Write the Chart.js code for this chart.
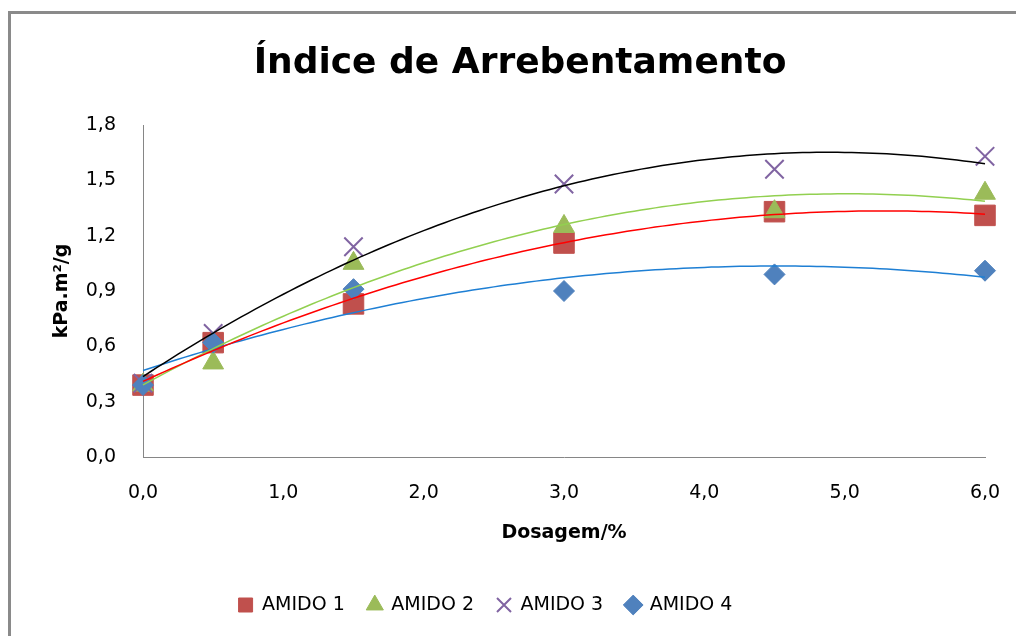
<!DOCTYPE html>
<html>
<head>
<meta charset="utf-8">
<script src="https://cdn.jsdelivr.net/npm/chart.js@4.4.0/dist/chart.umd.min.js"></script>
<style>
  html, body { margin: 0; padding: 0; background: #ffffff; }
  canvas { display: block; }
</style>
</head>
<body>
<canvas id="chart" width="1016" height="636"></canvas>
<script>
// Dosage levels (%) and burst index (kPa.m²/g) for each starch
const dosagem = [0, 0.5, 1.5, 3.0, 4.5, 6.0];
const amido1 = [0.39, 0.62, 0.83, 1.16, 1.33, 1.31];
const amido2 = [0.39, 0.51, 1.05, 1.25, 1.33, 1.43];
const amido3 = [0.40, 0.67, 1.14, 1.48, 1.56, 1.63];
const amido4 = [0.39, 0.62, 0.91, 0.90, 0.99, 1.01];

const seriesNames = ['AMIDO 1', 'AMIDO 2', 'AMIDO 3', 'AMIDO 4'];
const xTickValues = [0, 1, 2, 3, 4, 5, 6];
const yTickValues = [0, 0.3, 0.6, 0.9, 1.2, 1.5, 1.8];

const FONT = '"DejaVu Sans", sans-serif';
const fmt = v => Number(v).toFixed(1).replace('.', ',');

// Second-order least-squares fit (polynomial trendline)
function quadFit(xs, ys) {
  const S = [0, 0, 0, 0, 0], T = [0, 0, 0];
  xs.forEach((x, i) => {
    for (let k = 0; k < 5; k++) S[k] += Math.pow(x, k);
    for (let k = 0; k < 3; k++) T[k] += ys[i] * Math.pow(x, k);
  });
  const M = [[S[0], S[1], S[2], T[0]], [S[1], S[2], S[3], T[1]], [S[2], S[3], S[4], T[2]]];
  for (let c = 0; c < 3; c++) {
    for (let r = c + 1; r < 3; r++) {
      const f = M[r][c] / M[c][c];
      for (let k = c; k < 4; k++) M[r][k] -= f * M[c][k];
    }
  }
  const coef = [0, 0, 0];
  for (let r = 2; r >= 0; r--) {
    let s = M[r][3];
    for (let k = r + 1; k < 3; k++) s -= M[r][k] * coef[k];
    coef[r] = s / M[r][r];
  }
  return coef;
}

function trendPoints(ys) {
  const [a, b, c] = quadFit(dosagem, ys);
  const lo = dosagem[0], hi = dosagem[dosagem.length - 1];
  const pts = [];
  const n = 120;
  for (let i = 0; i <= n; i++) {
    const x = lo + (hi - lo) * i / n;
    pts.push({ x, y: a + b * x + c * x * x });
  }
  return pts;
}

const toXY = ys => dosagem.map((x, i) => ({ x, y: ys[i] }));

const markerStyles = [
  { data: amido1, color: '#C0504D', style: 'rect',     radius: 14.5, order: 5, trend: '#FF0000' },
  { data: amido2, color: '#9BBB59', style: 'triangle', radius: 12,   order: 4, trend: '#92D050' },
  { data: amido3, color: '#8064A2', style: 'crossRot', radius: 13,   order: 3, trend: '#000000' },
  { data: amido4, color: '#4F81BD', style: 'rectRot',  radius: 10.5, order: 2, trend: '#1E7FD4' }
];

const datasets = [];
markerStyles.forEach((s, i) => {
  datasets.push({
    label: seriesNames[i],
    data: toXY(s.data),
    showLine: false,
    clip: false,
    pointStyle: s.style,
    pointRadius: s.radius,
    pointHoverRadius: s.radius,
    backgroundColor: s.color,
    borderColor: s.color,
    pointBorderWidth: s.style === 'crossRot' ? 2 : 1,
    order: s.order
  });
});
markerStyles.forEach((s, i) => {
  datasets.push({
    label: seriesNames[i] + ' (tendência)',
    data: trendPoints(s.data),
    showLine: true,
    clip: false,
    borderColor: s.trend,
    borderWidth: 1.5,
    pointRadius: 0,
    pointHoverRadius: 0,
    fill: false,
    tension: 0,
    order: 1
  });
});

// Grey frame along the top and left edges, plus small title/legend nudges
const framePlugin = {
  id: 'frame',
  afterLayout(chart) {
    const lg = chart.legend;
    if (lg) { lg.left -= 7; lg.right -= 7; }
    const tb = chart.titleBlock;
    if (tb) { tb.left += 27.5; tb.right += 27.5; }
  },
  beforeDraw(chart) {
    const ctx = chart.ctx;
    ctx.save();
    ctx.fillStyle = '#ffffff';
    ctx.fillRect(0, 0, chart.width, chart.height);
    ctx.fillStyle = '#8A8A8A';
    ctx.fillRect(8, 11, chart.width - 8, 3);
    ctx.fillRect(8, 11, 3, chart.height - 11);
    ctx.restore();
  }
};

new Chart(document.getElementById('chart'), {
  type: 'scatter',
  data: { datasets },
  plugins: [framePlugin],
  options: {
    responsive: false,
    animation: false,
    events: [],
    layout: { padding: { top: 0, left: 0, right: 31, bottom: 11.5 } },
    plugins: {
      title: {
        display: true,
        text: 'Índice de Arrebentamento',
        color: '#000000',
        font: { family: FONT, size: 36, weight: 'bold' },
        padding: { top: 42, bottom: 39.8 }
      },
      legend: {
        display: true,
        position: 'bottom',
        labels: {
          filter: item => item.datasetIndex < seriesNames.length,
          sort: (a, b) => a.datasetIndex - b.datasetIndex,
          usePointStyle: true,
          boxWidth: 14,
          boxHeight: 14,
          padding: 23,
          color: '#000000',
          font: { family: FONT, size: 19 }
        }
      },
      tooltip: { enabled: false }
    },
    scales: {
      x: {
        type: 'linear',
        min: 0,
        max: 6,
        afterBuildTicks: axis => { axis.ticks = xTickValues.map(v => ({ value: v })); },
        afterFit: axis => { axis.height = 115.5; axis.paddingLeft = 0; axis.paddingRight = 0; },
        grid: { display: false, drawTicks: false },
        border: { display: true, color: '#868686', width: 1 },
        ticks: {
          padding: 25,
          color: '#000000',
          font: { family: FONT, size: 19 },
          callback: v => fmt(v),
          maxRotation: 0
        },
        title: {
          display: true,
          text: 'Dosagem/%',
          color: '#000000',
          font: { family: FONT, size: 19, weight: 'bold' },
          padding: { top: 0, bottom: 28 }
        }
      },
      y: {
        type: 'linear',
        min: 0,
        max: 1.8,
        afterBuildTicks: axis => { axis.ticks = yTickValues.map(v => ({ value: v })); },
        afterFit: axis => { axis.width = 143; },
        grid: { display: false, drawTicks: false },
        border: { display: true, color: '#868686', width: 1 },
        ticks: {
          padding: 27,
          color: '#000000',
          font: { family: FONT, size: 19 },
          callback: v => fmt(v)
        },
        title: {
          display: true,
          text: 'kPa.m²/g',
          color: '#000000',
          font: { family: FONT, size: 19, weight: 'bold' },
          padding: { top: 50.6, bottom: 0 }
        }
      }
    }
  }
});
</script>
</body>
</html>
